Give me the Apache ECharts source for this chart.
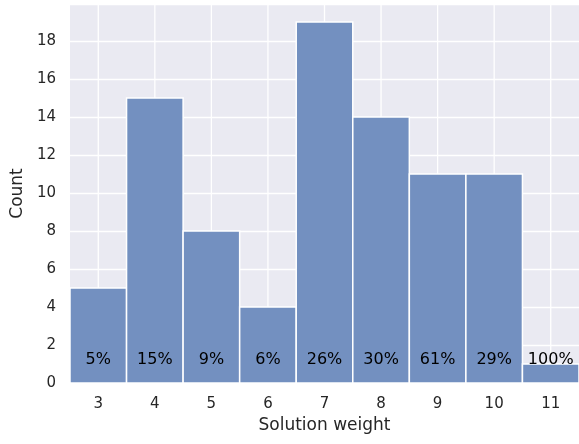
<!DOCTYPE html>
<html>
<head>
<meta charset="utf-8">
<script src="https://cdn.jsdelivr.net/npm/echarts@6/dist/echarts.min.js"></script>
<style>html,body{margin:0;padding:0;background:#fff}#c{width:579px;height:444px}</style>
</head>
<body>
<div id="c"></div>
<script>
const weights = [3, 4, 5, 6, 7, 8, 9, 10, 11];
const counts = [5, 15, 8, 4, 19, 14, 11, 11, 1];
const percents = ['5%', '15%', '9%', '6%', '26%', '30%', '61%', '29%', '100%'];
const yMax = 19.95;
const labelLevel = 1.2;

const chart = echarts.init(document.getElementById('c'), null, {renderer: 'canvas'});
const font = 'DejaVu Sans';
const data = weights.map((w, i) => [w, counts[i], percents[i]]);

chart.setOption({
  animation: false,
  grid: {left: 70, right: 0, top: 4, bottom: 61, show: true, backgroundColor: '#eaeaf2', borderWidth: 0},
  xAxis: {
    type: 'value', min: 2.5, max: 11.5,
    name: 'Solution weight', nameLocation: 'middle', nameGap: 33,
    nameTextStyle: {fontFamily: font, fontSize: 17, color: '#262626'},
    axisLine: {show: false}, axisTick: {show: false}, splitLine: {show: false},
    axisLabel: {customValues: weights, fontFamily: font, fontSize: 15, color: '#262626', margin: 14}
  },
  yAxis: {
    type: 'value', min: 0, max: yMax, interval: 2,
    name: 'Count', nameLocation: 'middle', nameGap: 36,
    nameTextStyle: {fontFamily: font, fontSize: 17, color: '#262626'},
    axisLine: {show: false}, axisTick: {show: false},
    splitLine: {show: true, lineStyle: {color: '#ffffff', width: 1.3}},
    axisLabel: {fontFamily: font, fontSize: 15, color: '#262626', margin: 14, showMaxLabel: false}
  },
  series: [
    {
      type: 'custom', z: 1, silent: true,
      data: weights.map(w => [w]),
      renderItem: function (params, api) {
        const x = api.value(0);
        const a = api.coord([x, 0]);
        const b = api.coord([x, yMax]);
        return {type: 'line', shape: {x1: a[0], y1: a[1], x2: b[0], y2: b[1]}, style: {stroke: '#ffffff', lineWidth: 1.3}};
      }
    },
    {
      type: 'custom', z: 2,
      data: data,
      renderItem: function (params, api) {
        const x = api.value(0), y = api.value(1);
        const p0 = api.coord([x - 0.5, y]);
        const p1 = api.coord([x + 0.5, 0]);
        const t = api.coord([x, labelLevel]);
        return {
          type: 'group',
          children: [
            {type: 'rect', shape: {x: p0[0], y: p0[1], width: p1[0] - p0[0], height: p1[1] - p0[1]},
             style: {fill: '#7390c0', stroke: '#ffffff', lineWidth: 1.5}},
            {type: 'text', x: t[0], y: t[1], z2: 10,
             style: {text: data[params.dataIndex][2], fontFamily: font, fontSize: 16, fill: '#000000', align: 'center', verticalAlign: 'middle'}}
          ]
        };
      }
    }
  ]
});
</script>
</body>
</html>
